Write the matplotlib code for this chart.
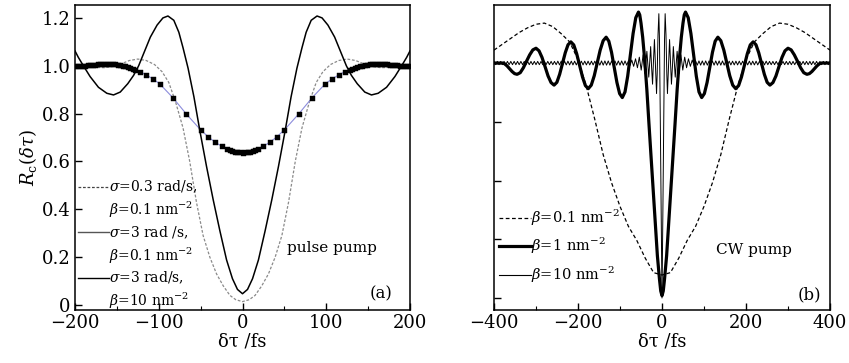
import matplotlib
matplotlib.use('Agg')
import matplotlib.pyplot as plt
from matplotlib.lines import Line2D
from matplotlib.ticker import MultipleLocator

plt.rcParams['font.family'] = ['DejaVu Serif']
plt.rcParams['mathtext.fontset'] = 'dejavuserif'

# ---------------- panel (a): pulse pump ----------------
# sigma = 0.3 rad/s, beta = 0.1 nm^-2 (grey dashed)
pa_s03_x = [-200, -185, -175, -165, -155, -145, -135, -125, -115, -105, -96, -88, -80, -71, -63, -55, -47, -39,
            -31, -23, -15, -8, 0, 8, 15, 23, 31, 39, 47, 55, 63, 71, 80, 88, 96, 105, 115, 125, 135, 145, 155,
            165, 175, 185, 200]
pa_s03_y = [1.0, 0.997, 0.993, 0.992, 0.997, 1.008, 1.022, 1.028, 1.022, 1.005, 0.975, 0.93, 0.85, 0.74, 0.6,
            0.43, 0.29, 0.2, 0.13, 0.08, 0.04, 0.022, 0.014, 0.022, 0.04, 0.08, 0.13, 0.2, 0.29, 0.43, 0.6, 0.74,
            0.85, 0.93, 0.975, 1.005, 1.022, 1.028, 1.022, 1.008, 0.997, 0.992, 0.993, 0.997, 1.0]

# sigma = 3 rad/s, beta = 0.1 nm^-2 (blue line with square markers)
pa_s3b01_x = [-200, -197, -194, -191, -188, -185, -182, -179, -176, -173, -170, -167, -164, -161, -158, -155,
              -152, -149, -146, -143, -140, -137, -134, -131, -128, -122, -115, -107, -99, -83, -67, -50, -41,
              -33, -25, -19, -15, -12, -9, -6, -3, 0, 3, 6, 9, 12, 15, 19, 25, 33, 41, 50, 67, 83, 99, 107, 115,
              122, 128, 131, 134, 137, 140, 143, 146, 149, 152, 155, 158, 161, 164, 167, 170, 173, 176, 179,
              182, 185, 188, 191, 194, 197, 200]
pa_s3b01_y = [1.0, 1.0, 1.0, 1.0, 1.001, 1.002, 1.003, 1.004, 1.005, 1.006, 1.007, 1.008, 1.008, 1.008, 1.008,
              1.007, 1.006, 1.005, 1.003, 1.0, 0.998, 0.995, 0.992, 0.988, 0.984, 0.975, 0.962, 0.945, 0.925,
              0.866, 0.798, 0.732, 0.703, 0.681, 0.664, 0.654, 0.648, 0.644, 0.641, 0.639, 0.638, 0.637, 0.638,
              0.639, 0.641, 0.644, 0.648, 0.654, 0.664, 0.681, 0.703, 0.732, 0.798, 0.866, 0.925, 0.945, 0.962,
              0.975, 0.984, 0.988, 0.992, 0.995, 0.998, 1.0, 1.003, 1.005, 1.006, 1.007, 1.008, 1.008, 1.008,
              1.008, 1.007, 1.006, 1.005, 1.004, 1.003, 1.002, 1.001, 1.0, 1.0, 1.0, 1.0]

# sigma = 3 rad/s, beta = 10 nm^-2 (black solid)
pa_s3b10_x = [-200, -196, -190, -182, -172, -162, -154, -146, -137, -130, -124, -117, -110, -102, -95, -89, -82,
              -76, -71, -65, -58, -51, -43, -35, -27, -19, -12, -6, 0, 6, 12, 19, 27, 35, 43, 51, 58, 65, 71, 76,
              82, 89, 95, 102, 110, 117, 124, 130, 137, 146, 154, 162, 172, 182, 190, 196, 200]
pa_s3b10_y = [1.062, 1.035, 1.0, 0.955, 0.91, 0.885, 0.878, 0.89, 0.925, 0.96, 1.0, 1.06, 1.12, 1.17, 1.2, 1.208,
              1.19, 1.14, 1.075, 0.99, 0.87, 0.73, 0.58, 0.44, 0.31, 0.188, 0.11, 0.065, 0.047, 0.065, 0.11,
              0.188, 0.31, 0.44, 0.58, 0.73, 0.87, 0.99, 1.075, 1.14, 1.19, 1.208, 1.2, 1.17, 1.12, 1.06, 1.0,
              0.96, 0.925, 0.89, 0.878, 0.885, 0.91, 0.955, 1.0, 1.035, 1.062]

pa_xticks = [-200, -100, 0, 100, 200]
pa_xticklabels = ['\u2212200', '\u2212100', '0', '100', '200']
pa_yticks = [0, 0.2, 0.4, 0.6, 0.8, 1.0, 1.2]
pa_yticklabels = ['0', '0.2', '0.4', '0.6', '0.8', '1.0', '1.2']
pa_labels = [r'$\sigma$=0.3 rad/s,', r'$\beta$=0.1 nm$^{-2}$', r'$\sigma$=3 rad /s,', r'$\beta$=0.1 nm$^{-2}$',
             r'$\sigma$=3 rad/s,', r'$\beta$=10 nm$^{-2}$']

# ---------------- panel (b): CW pump ----------------
# beta = 0.1 nm^-2 (dashed)
pb_b01_x = [-400, -380, -360, -340, -320, -300, -280, -260, -240, -220, -200, -180, -160, -140, -120, -100, -80,
            -60, -40, -20, 0, 20, 40, 60, 80, 100, 120, 140, 160, 180, 200, 220, 240, 260, 280, 300, 320, 340,
            360, 380, 400]
pb_b01_y = [1.055, 1.08, 1.105, 1.13, 1.15, 1.165, 1.17, 1.155, 1.125, 1.09, 1.015, 0.9, 0.76, 0.61, 0.49, 0.39,
            0.305, 0.245, 0.17, 0.108, 0.098, 0.108, 0.17, 0.245, 0.305, 0.39, 0.49, 0.61, 0.76, 0.9, 1.015,
            1.09, 1.125, 1.155, 1.17, 1.165, 1.15, 1.13, 1.105, 1.08, 1.055]

# beta = 1 nm^-2 (thick)
pb_b1_xn = [-400, -390, -380, -375, -369, -363, -357, -351, -345, -337.5, -330, -322.5, -315, -307.5, -300,
            -292.8, -285.7, -278.5, -271.3, -264.2, -257, -250.3, -243.7, -237, -230.3, -223.7, -217, -210.1,
            -203.2, -196.3, -189.3, -182.4, -175.5, -168.4, -161.3, -154.3, -147.2, -140.1, -133, -126.6,
            -120.2, -113.8, -107.3, -100.9, -94.5, -88.1, -81.7, -75.3, -68.8, -62.4, -56, -53, -50, -46, -41,
            -36, -31, -26, -21, -16, -11, -6, -3]
pb_b1_yn = [1.0, 1.0, 1.0, 0.997, 0.988, 0.976, 0.964, 0.955, 0.952, 0.959, 0.98, 1.008, 1.035, 1.056, 1.063,
            1.052, 1.024, 0.985, 0.945, 0.917, 0.906, 0.918, 0.952, 0.998, 1.044, 1.078, 1.09, 1.077, 1.04,
            0.991, 0.941, 0.904, 0.891, 0.906, 0.946, 1.0, 1.055, 1.095, 1.11, 1.093, 1.046, 0.982, 0.917, 0.87,
            0.853, 0.877, 0.944, 1.035, 1.126, 1.193, 1.217, 1.205, 1.17, 1.11, 1.01, 0.885, 0.74, 0.6, 0.46,
            0.32, 0.18, 0.08, 0.03]
pb_b1_xp = [0, 3, 6, 11, 16, 21, 26, 31, 36, 41, 46, 50, 53, 56, 62.4, 68.8, 75.3, 81.7, 88.1, 94.5, 100.9,
            107.3, 113.8, 120.2, 126.6, 133, 140.1, 147.2, 154.3, 161.3, 168.4, 175.5, 182.4, 189.3, 196.3,
            203.2, 210.1, 217, 223.7, 230.3, 237, 243.7, 250.3, 257, 264.2, 271.3, 278.5, 285.7, 292.8, 300,
            307.5, 315, 322.5, 330, 337.5, 345, 351, 357, 363, 369, 375, 380, 390, 400]
pb_b1_yp = [0.01, 0.03, 0.08, 0.18, 0.32, 0.46, 0.6, 0.74, 0.885, 1.01, 1.11, 1.17, 1.205, 1.217, 1.193, 1.126,
            1.035, 0.944, 0.877, 0.853, 0.87, 0.917, 0.982, 1.046, 1.093, 1.11, 1.095, 1.055, 1.0, 0.946, 0.906,
            0.891, 0.904, 0.941, 0.991, 1.04, 1.077, 1.09, 1.078, 1.044, 0.998, 0.952, 0.918, 0.906, 0.917,
            0.945, 0.985, 1.024, 1.052, 1.063, 1.056, 1.035, 1.008, 0.98, 0.959, 0.952, 0.955, 0.964, 0.976,
            0.988, 0.997, 1.0, 1.0, 1.0]

# beta = 10 nm^-2 (thin, fast oscillation)
pb_b10_xn = [-400, -396, -392, -388, -384, -380, -376, -372, -368, -364, -360, -356, -352, -348, -344, -340,
             -336, -332, -328, -324, -320, -316, -312, -308, -304, -300, -296, -292, -288, -284, -280, -276,
             -272, -268, -264, -260, -256, -252,
             -248, -244, -240, -236, -232, -228, -224, -220, -216, -212, -208, -204, -200, -196, -192, -188,
             -184, -180, -176, -172, -168, -164, -160, -156, -152,
             -148, -144, -140, -136, -132, -128, -124, -120, -116, -112, -108, -104, -100, -96, -92, -88, -84,
             -80,
             -76, -72, -67.5, -63, -58.5, -54, -49.5, -45, -40.5, -38.5, -36, -34, -31.5, -29.5, -27, -25,
             -22.5, -20.5, -18, -15.5, -13, -11.5, -9.5, -7.5, -6, -4, -2]
pb_b10_yn = [1.007, 0.993, 1.007, 0.993, 1.007, 0.993, 1.007, 0.993, 1.007, 0.993, 1.007, 0.993, 1.007, 0.993,
             1.007, 0.993, 1.007, 0.993, 1.007, 0.993, 1.007, 0.993, 1.007, 0.993, 1.007, 0.993, 1.007, 0.993,
             1.007, 0.993, 1.007, 0.993, 1.007, 0.993, 1.007, 0.993, 1.007, 0.993,
             1.008, 0.992, 1.008, 0.992, 1.008, 0.992, 1.008, 0.992, 1.008, 0.992, 1.008, 0.992, 1.008, 0.992,
             1.008, 0.992, 1.008, 0.992, 1.008, 0.992, 1.008, 0.992, 1.008, 0.992, 1.008,
             0.991, 1.009, 0.991, 1.009, 0.991, 1.009, 0.991, 1.009, 0.991, 1.009, 0.991, 1.009, 0.991, 1.009,
             0.991, 1.009, 0.991, 1.009,
             0.99, 1.013, 0.986, 1.018, 0.98, 1.025, 0.97, 1.035, 0.955, 1.0, 1.05, 1.0, 0.94, 1.0, 1.07, 0.99,
             0.91, 1.0, 1.1, 0.98, 0.87, 0.95, 1.12, 1.21, 1.1, 0.75, 0.35]
pb_b10_xp = [0, 2, 4, 6, 7.5, 9.5, 11.5, 13, 15.5, 18, 20.5, 22.5, 25, 27, 29.5, 31.5, 34, 36, 38.5, 40.5, 45,
             49.5, 54, 58.5, 63, 67.5, 72, 76,
             80, 84, 88, 92, 96, 100, 104, 108, 112, 116, 120, 124, 128, 132, 136, 140, 144, 148,
             152, 156, 160, 164, 168, 172, 176, 180, 184, 188, 192, 196, 200, 204, 208, 212, 216, 220, 224, 228,
             232, 236, 240, 244, 248,
             252, 256, 260, 264, 268, 272, 276, 280, 284, 288, 292, 296, 300, 304, 308, 312, 316, 320, 324, 328,
             332, 336, 340, 344, 348, 352, 356, 360, 364, 368, 372, 376, 380, 384, 388, 392, 396, 400]
pb_b10_yp = [0.0, 0.35, 0.75, 1.1, 1.21, 1.12, 0.95, 0.87, 0.98, 1.1, 1.0, 0.91, 0.99, 1.07, 1.0, 0.94, 1.0,
             1.05, 1.0, 0.955, 1.035, 0.97, 1.025, 0.98, 1.018, 0.986, 1.013, 0.99,
             1.009, 0.991, 1.009, 0.991, 1.009, 0.991, 1.009, 0.991, 1.009, 0.991, 1.009, 0.991, 1.009, 0.991,
             1.009, 0.991, 1.009, 0.991,
             1.008, 0.992, 1.008, 0.992, 1.008, 0.992, 1.008, 0.992, 1.008, 0.992, 1.008, 0.992, 1.008, 0.992,
             1.008, 0.992, 1.008, 0.992, 1.008, 0.992, 1.008, 0.992, 1.008, 0.992, 1.008,
             0.993, 1.007, 0.993, 1.007, 0.993, 1.007, 0.993, 1.007, 0.993, 1.007, 0.993, 1.007, 0.993, 1.007,
             0.993, 1.007, 0.993, 1.007, 0.993, 1.007, 0.993, 1.007, 0.993, 1.007, 0.993, 1.007, 0.993, 1.007,
             0.993, 1.007, 0.993, 1.007, 0.993, 1.007, 0.993, 1.007, 0.993, 1.007]

pb_xticks = [-400, -200, 0, 200, 400]
pb_xticklabels = ['\u2212400', '\u2212200', '0', '200', '400']
pb_yticks = [0, 0.25, 0.5, 0.75, 1.0]
pb_labels = [r'$\beta$=0.1 nm$^{-2}$', r'$\beta$=1 nm$^{-2}$', r'$\beta$=10 nm$^{-2}$']

# ---------------- figure ----------------
W, H = 849, 363
fig = plt.figure(figsize=(W / 100, H / 100), dpi=100)
ax1 = fig.add_axes([75 / W, 1 - 310 / H, 335 / W, 305 / H])
ax2 = fig.add_axes([494 / W, 1 - 310 / H, 336 / W, 305 / H])

# panel (a)
ax1.plot(pa_s03_x, pa_s03_y, color='#8a8a8a', lw=0.9, dashes=(2.2, 1.4))
ax1.plot(pa_s3b01_x, pa_s3b01_y, color='#8c8cdc', lw=0.8, marker='s', ms=3.6,
         mfc='black', mec='black', mew=0.3)
ax1.plot(pa_s3b10_x, pa_s3b10_y, color='black', lw=1.1)

ax1.set_xlim(-200, 200)
ax1.set_ylim(-0.021, 1.254)
ax1.set_xticks(pa_xticks)
ax1.set_xticklabels(pa_xticklabels)
ax1.set_yticks(pa_yticks)
ax1.set_yticklabels(pa_yticklabels)
ax1.xaxis.set_minor_locator(MultipleLocator(50))
ax1.set_xlabel('\u03b4\u03c4 /fs', fontsize=13, labelpad=0)
ax1.set_ylabel(r'$R_{\rm c}(\delta\tau)$', fontsize=13, labelpad=2)

blank = Line2D([], [], color='none')
h_a = [Line2D([], [], color='#444444', lw=0.9, dashes=(2.2, 1.4)), blank,
       Line2D([], [], color='#555555', lw=1.0), blank,
       Line2D([], [], color='black', lw=1.0), blank]
ax1.legend(h_a, pa_labels, loc='upper left', bbox_to_anchor=(0.01, 0.43), frameon=False, fontsize=10,
           handlelength=2.2, handletextpad=0.0, labelspacing=0.32, borderpad=0, borderaxespad=0)
ax1.text(107, 0.238, 'pulse pump', ha='center', va='center', fontsize=11)
ax1.text(166, 0.045, '(a)', ha='center', va='center', fontsize=12)

# panel (b)
ax2.plot(pb_b01_x, pb_b01_y, color='black', lw=0.9, dashes=(3, 2))
ax2.plot(pb_b1_xn + pb_b1_xp, pb_b1_yn + pb_b1_yp, color='black', lw=2.3)
ax2.plot(pb_b10_xn + pb_b10_xp, pb_b10_yn + pb_b10_yp, color='black', lw=0.7)

ax2.set_xlim(-400, 400)
ax2.set_ylim(-0.051, 1.247)
ax2.set_xticks(pb_xticks)
ax2.set_xticklabels(pb_xticklabels)
ax2.set_yticks(pb_yticks)
ax2.set_yticklabels([''] * len(pb_yticks))
ax2.xaxis.set_minor_locator(MultipleLocator(100))
ax2.set_xlabel('\u03b4\u03c4 /fs', fontsize=13, labelpad=0)

h_b = [Line2D([], [], color='black', lw=0.9, dashes=(3, 2)),
       Line2D([], [], color='black', lw=2.3),
       Line2D([], [], color='black', lw=0.8)]
ax2.legend(h_b, pb_labels, loc='upper left', bbox_to_anchor=(0.015, 0.335), frameon=False, fontsize=10.5,
           handlelength=2.2, handletextpad=0.0, labelspacing=0.55, borderpad=0, borderaxespad=0)
ax2.text(218, 0.204, 'CW pump', ha='center', va='center', fontsize=11)
ax2.text(351, 0.013, '(b)', ha='center', va='center', fontsize=12)

for ax in (ax1, ax2):
    ax.tick_params(which='major', direction='in', length=5, width=1, labelsize=13, pad=3,
                   top=False, right=False)
    ax.tick_params(which='minor', direction='in', length=3, width=0.8, top=False, right=False)
    for s in ax.spines.values():
        s.set_linewidth(1.1)

fig.savefig('out.png', dpi=100)
